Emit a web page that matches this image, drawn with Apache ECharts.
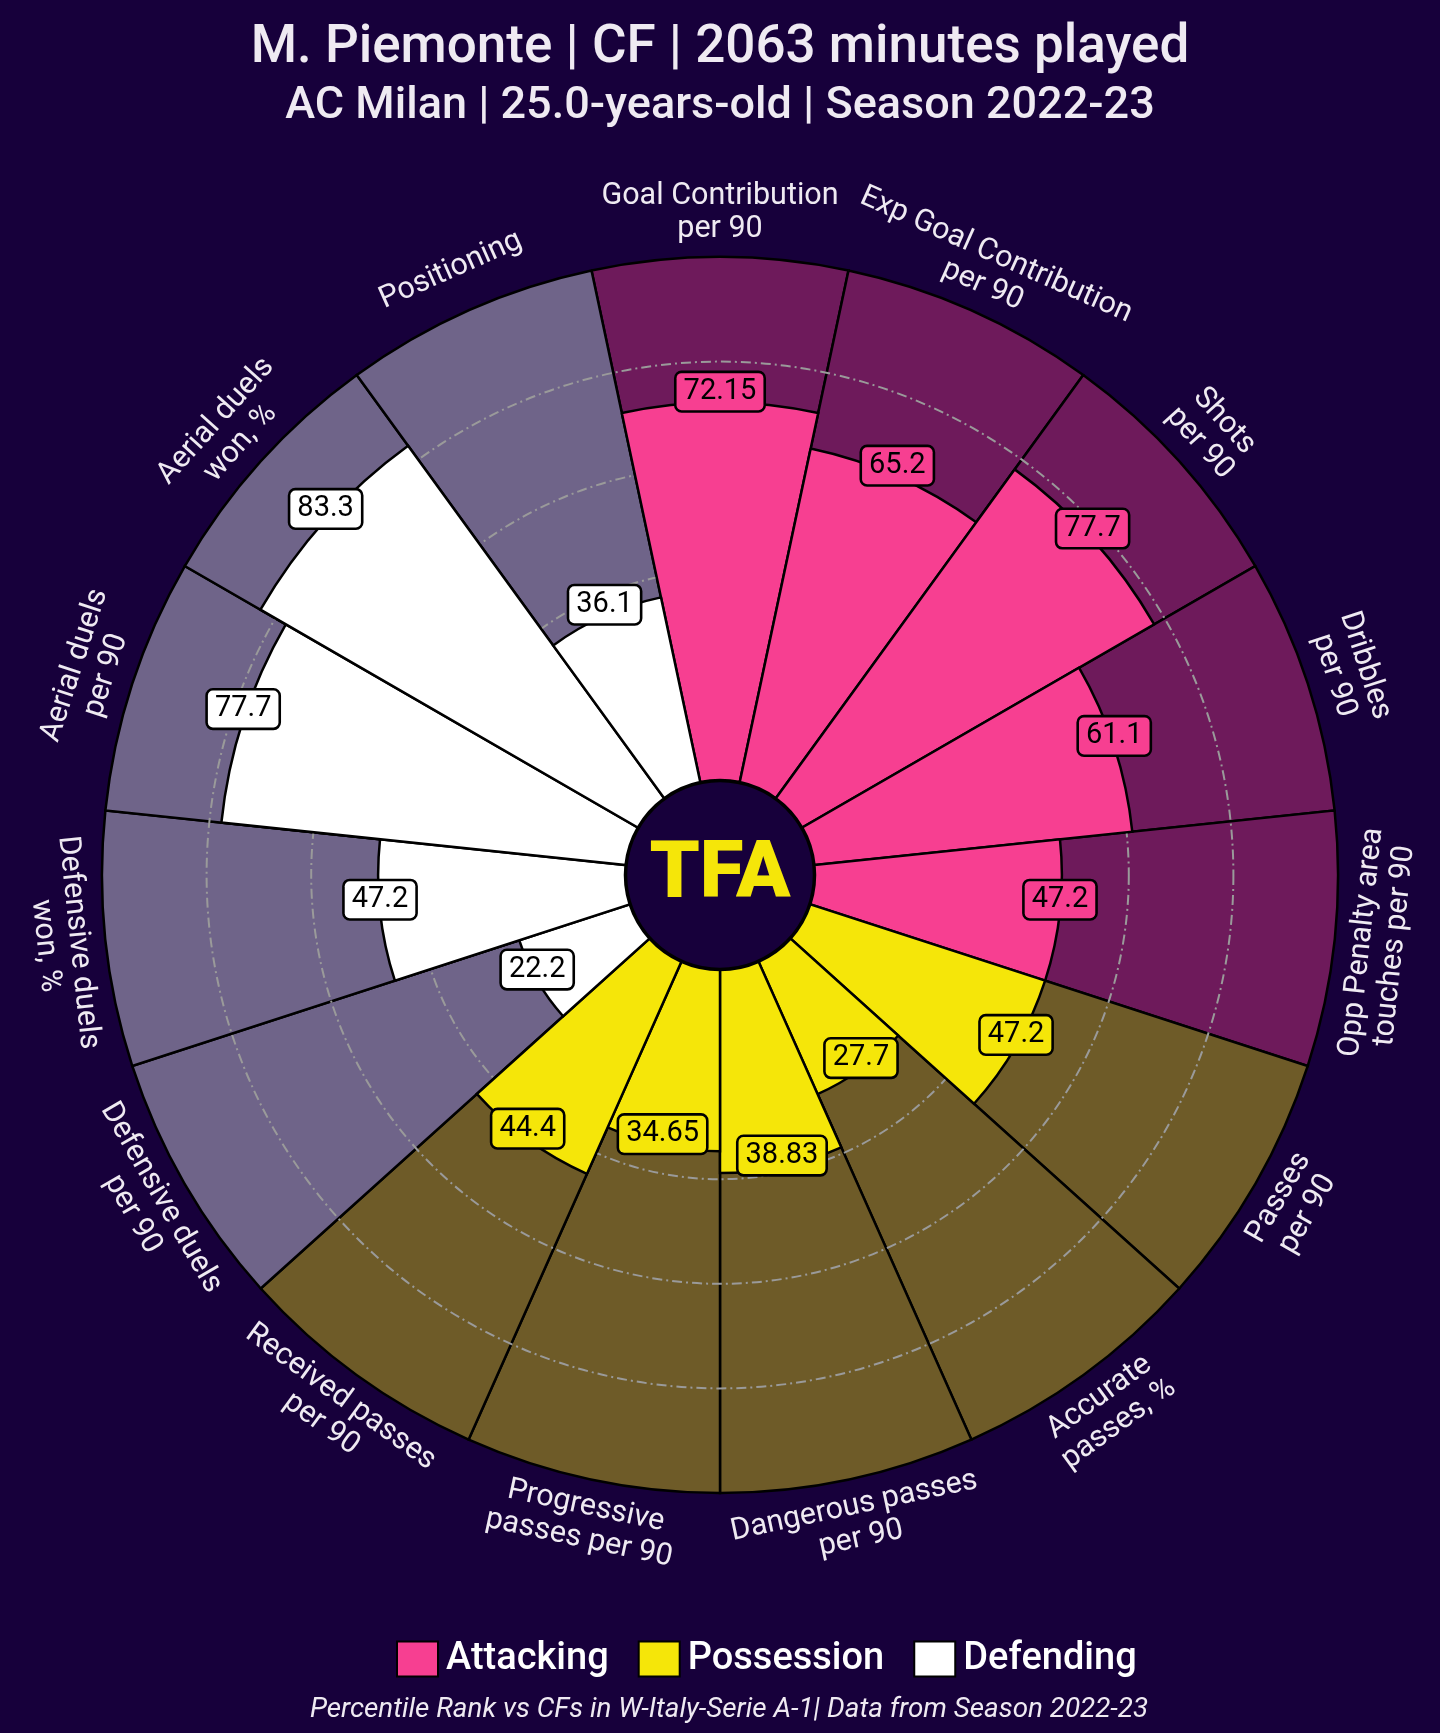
<!DOCTYPE html>
<html>
<head>
<meta charset="utf-8">
<script src="https://cdn.jsdelivr.net/npm/echarts@6/dist/echarts.min.js"></script>
<style>
html,body{margin:0;padding:0;background:#17003b;}
#chart{width:1440px;height:1733px;}
</style>
</head>
<body>
<div id="chart"></div>
<script>
// ---------------- data ----------------
const categories = [
  'Goal Contribution\nper 90',
  'Exp Goal Contribution\nper 90',
  'Shots\nper 90',
  'Dribbles\nper 90',
  'Opp Penalty area\ntouches per 90',
  'Passes\nper 90',
  'Accurate\npasses, %',
  'Dangerous passes\nper 90',
  'Progressive\npasses per 90',
  'Received passes\nper 90',
  'Defensive duels\nper 90',
  'Defensive duels\nwon, %',
  'Aerial duels\nper 90',
  'Aerial duels\nwon, %',
  'Positioning'
];
const values = [72.15, 65.2, 77.7, 61.1, 47.2, 47.2, 27.7, 38.83, 34.65, 44.4, 22.2, 47.2, 77.7, 83.3, 36.1];
const valueLabels = ['72.15', '65.2', '77.7', '61.1', '47.2', '47.2', '27.7', '38.83', '34.65', '44.4', '22.2', '47.2', '77.7', '83.3', '36.1'];
const groups = ['Attacking','Attacking','Attacking','Attacking','Attacking',
                'Possession','Possession','Possession','Possession','Possession',
                'Defending','Defending','Defending','Defending','Defending'];
const groupNames = ['Attacking', 'Possession', 'Defending'];
const maxValue = 100;
// radius ticks 0,20,40,60,80,100 : which ones get a dash-dot grid circle
const gridTicks = ['', '20', '40', '60', '80', ''];

const titleText = 'M. Piemonte | CF | 2063 minutes played';
const subtitleText = 'AC Milan | 25.0-years-old | Season 2022-23';
const footnoteText = 'Percentile Rank vs CFs in W-Italy-Serie A-1| Data from Season 2022-23';

// ---------------- styles / layout ----------------
const BG = '#17003b';
const groupColors = { Attacking: '#f73f91', Possession: '#f5e609', Defending: '#ffffff' };
const groupBgColors = { Attacking: '#6e1a5b', Possession: '#6e5b28', Defending: '#6f6489' };
const TEXT_COLOR = '#efeaf2';
const CX = 720, CY = 875, R_IN = 95, R_OUT = 618;
const CATEGORY_LABEL_R = 108.4;   // in radius-axis units (outside the ring)
const VALUE_LABEL_DY = -11;
const FONT = 'Roboto';

const chart = echarts.init(document.getElementById('chart'), null, { renderer: 'canvas', width: 1440, height: 1733 });

function tangentialRotation(pt, cs) {
  const theta = Math.atan2(pt[0] - cs.cx, cs.cy - pt[1]) * 180 / Math.PI; // clockwise from top
  let rot = theta;
  if (theta > 90.5) rot = theta - 180;
  else if (theta < -90.5) rot = theta + 180;
  return -rot * Math.PI / 180;
}

const option = {
  backgroundColor: BG,
  animation: false,
  title: [
    { text: titleText, left: 'center', top: 22, padding: 0,
      textStyle: { color: TEXT_COLOR, fontFamily: FONT, fontWeight: 500, fontSize: 53 } },
    { text: subtitleText, left: 'center', top: 84, padding: 0,
      textStyle: { color: TEXT_COLOR, fontFamily: FONT, fontWeight: 500, fontSize: 45 } },
    { text: footnoteText, left: 729, top: 1696, padding: 0,
      textStyle: { color: TEXT_COLOR, fontFamily: FONT, fontWeight: 'normal', fontStyle: 'italic', fontSize: 27.8 },
      textAlign: 'center' }
  ],
  legend: {
    data: groupNames,
    left: 396, top: 1640, padding: 0,
    itemWidth: 41, itemHeight: 35, itemGap: 29,
    icon: 'rect',
    textStyle: { color: '#ffffff', fontFamily: FONT, fontWeight: 500, fontSize: 38, padding: [0, 0, 0, 3] }
  },
  polar: { center: [CX, CY], radius: [R_IN, R_OUT] },
  angleAxis: {
    type: 'category', data: categories,
    startAngle: 90 + 180 / categories.length, clockwise: true,
    axisLine: { show: false }, axisTick: { show: false }, axisLabel: { show: false }, splitLine: { show: false }
  },
  radiusAxis: {
    type: 'value', min: 0, max: maxValue, interval: 20, z: 2,
    axisLine: { show: false }, axisTick: { show: false }, axisLabel: { show: false },
    splitLine: {
      show: true,
      lineStyle: {
        color: gridTicks.map(t => t ? '#9a9a9a' : 'rgba(0,0,0,0)'),
        width: 2, type: [10, 4, 2, 4]
      }
    }
  },
  series: [
    {
      type: 'bar', name: 'background', coordinateSystem: 'polar', z: 1, silent: true,
      barGap: '-100%', barCategoryGap: '0%',
      data: categories.map((c, i) => ({ value: maxValue, itemStyle: { color: groupBgColors[groups[i]] } })),
      itemStyle: { borderColor: '#000000', borderWidth: 2.5 }
    },
    ...groupNames.map(g => ({
      type: 'bar', name: g, coordinateSystem: 'polar', z: 3,
      barGap: '-100%', barCategoryGap: '0%',
      data: values.map((v, i) => groups[i] === g ? v : '-'),
      itemStyle: { color: groupColors[g], borderColor: '#000000', borderWidth: 2.5 }
    })),
    {
      type: 'custom', name: 'categoryLabels', coordinateSystem: 'polar', z: 5, silent: true,
      data: categories.map((c, i) => [CATEGORY_LABEL_R, i]),
      renderItem: function (params, api) {
        const pt = api.coord([api.value(0), api.value(1)]);
        return {
          type: 'text', x: pt[0], y: pt[1],
          rotation: tangentialRotation(pt, params.coordSys),
          style: {
            text: categories[params.dataIndex], fill: TEXT_COLOR,
            fontFamily: FONT, fontSize: 30.5, lineHeight: 33,
            align: 'center', verticalAlign: 'middle'
          }
        };
      }
    },
    {
      type: 'custom', name: 'valueLabels', coordinateSystem: 'polar', z: 6, silent: true,
      data: values.map((v, i) => [v, i]),
      renderItem: function (params, api) {
        const pt = api.coord([api.value(0), api.value(1)]);
        const i = params.dataIndex;
        return {
          type: 'text', x: pt[0], y: pt[1] + VALUE_LABEL_DY,
          style: {
            text: valueLabels[i], fill: '#000000',
            fontFamily: FONT, fontSize: 29, lineHeight: 32,
            align: 'center', verticalAlign: 'middle',
            backgroundColor: groupColors[groups[i]],
            borderColor: '#000000', borderWidth: 2.6, borderRadius: 5,
            padding: [3, 7, 2, 7]
          }
        };
      }
    }
  ],
  graphic: [
    { type: 'circle', z: 100, shape: { cx: CX, cy: CY, r: 94 },
      style: { fill: BG, stroke: '#000000', lineWidth: 2.5 } },
    { type: 'text', z: 101, x: CX, y: CY + 2,
      style: { text: 'TFA', fill: '#f5e609', fontFamily: FONT, fontWeight: 900, fontSize: 80,
               align: 'center', verticalAlign: 'middle' } }
  ]
};
chart.setOption(option);
</script>
</body>
</html>
